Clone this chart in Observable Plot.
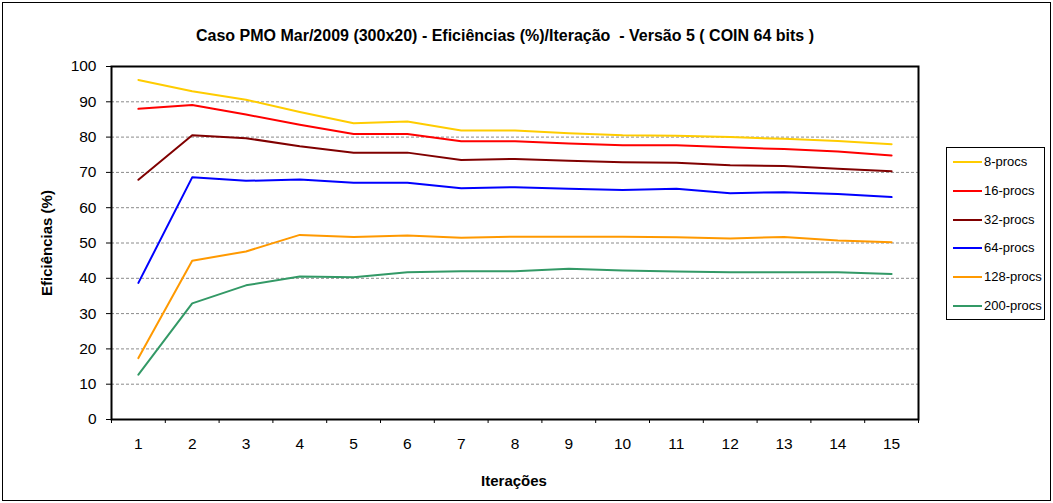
<!DOCTYPE html>
<html>
<head>
<meta charset="utf-8">
<script src="https://cdn.jsdelivr.net/npm/d3@7"></script>
<script src="https://cdn.jsdelivr.net/npm/@observablehq/plot@0.6"></script>
<style>
  html, body { margin: 0; padding: 0; background: #fff; }
  #wrap { position: relative; width: 1053px; height: 503px; font-family: Arial, "Liberation Sans", sans-serif; overflow: hidden; }
  #border { position: absolute; left: 2px; top: 2px; width: 1047px; height: 497px; border: 1px solid #000; box-sizing: content-box; pointer-events: none; }
  #title { position: absolute; left: 0; width: 1010px; top: 27px; text-align: center; font-weight: bold; font-size: 16px; white-space: nowrap; }
  #xlabel { position: absolute; left: 414px; width: 200px; top: 472px; text-align: center; font-weight: bold; font-size: 15px; }
  #ylabel { position: absolute; left: 46px; top: 243px; transform: translate(-50%, -50%) rotate(-90deg); font-weight: bold; font-size: 15px; white-space: nowrap; }
  #legend { position: absolute; left: 946px; top: 147px; width: 99px; height: 173px; border: 1px solid #000; box-sizing: border-box; background: #fff; }
  .li { position: absolute; left: 6px; font-size: 13px; line-height: 14px; white-space: nowrap; }
  .li span.sw { display: inline-block; width: 29px; height: 2px; vertical-align: middle; margin-right: 2px; position: relative; top: -1px; }
  svg { position: absolute; left: 0; top: 0; }
</style>
</head>
<body>
<div id="wrap">
  <div id="chart"></div>
  <div id="title">Caso PMO Mar/2009 (300x20) - Eficiências (%)/Iteração&nbsp; - Versão 5 ( COIN 64 bits )</div>
  <div id="ylabel">Eficiências (%)</div>
  <div id="xlabel">Iterações</div>
  <div id="legend"></div>
  <div id="border"></div>
</div>
<script>
const iterations = [1,2,3,4,5,6,7,8,9,10,11,12,13,14,15];
const seriesNames = ["8-procs","16-procs","32-procs","64-procs","128-procs","200-procs"];
const seriesColors = ["#FFCC00","#FF0000","#800000","#0000FF","#FF9900","#339966"];
const procs8   = [96.2,93.0,90.6,87.1,83.9,84.4,81.9,81.9,81.1,80.5,80.4,80.0,79.5,78.9,78.0];
const procs16  = [88.0,89.1,86.4,83.5,80.9,80.9,78.8,78.8,78.2,77.7,77.7,77.1,76.6,75.9,74.8];
const procs32  = [67.9,80.5,79.7,77.4,75.6,75.6,73.5,73.8,73.3,72.9,72.7,72.0,71.8,71.0,70.3];
const procs64  = [38.7,68.6,67.6,68.0,67.1,67.1,65.5,65.8,65.4,65.0,65.4,64.1,64.4,63.9,63.0];
const procs128 = [17.4,45.0,47.6,52.3,51.7,52.1,51.5,51.8,51.8,51.8,51.6,51.3,51.7,50.7,50.2];
const procs200 = [12.7,32.9,38.0,40.5,40.3,41.7,42.0,42.0,42.7,42.2,41.9,41.7,41.7,41.7,41.2];
const yTicks = [0,10,20,30,40,50,60,70,80,90,100];
const gridValues = [10,20,30,40,50,60,70,80,90];

const seriesValues = [procs8, procs16, procs32, procs64, procs128, procs200];
const data = [];
seriesNames.forEach((name, i) => {
  iterations.forEach((it, j) => data.push({series: name, iter: it, value: seriesValues[i][j]}));
});
const boundaries = d3.range(0.5, 16, 1);

const chart = Plot.plot({
  width: 1053,
  height: 503,
  marginLeft: 111,
  marginRight: 135,
  marginTop: 66,
  marginBottom: 84,
  style: {fontFamily: 'Arial, "Liberation Sans", sans-serif', background: "transparent", color: "#000"},
  x: {type: "linear", domain: [0.5, 15.5]},
  y: {domain: [0, 100]},
  color: {domain: seriesNames, range: seriesColors},
  marks: [
    Plot.ruleY(gridValues, {stroke: "#8a8a8a", strokeWidth: 1, strokeDasharray: "3,2"}),
    Plot.axisY({ticks: yTicks, tickSize: 5, tickPadding: 10, fontSize: 15.5, label: null, stroke: "#000"}),
    Plot.axisX({ticks: boundaries, tickSize: 4, tickFormat: () => "", label: null}),
    Plot.axisX({ticks: iterations, tickSize: 0, tickPadding: 18, fontSize: 15.5, label: null, tickFormat: d => String(d)}),
    Plot.line(data, {x: "iter", y: "value", z: "series", stroke: "series", strokeWidth: 2}),
    Plot.frame({stroke: "#000", strokeWidth: 2})
  ]
});
document.getElementById("chart").appendChild(chart);

const legend = document.getElementById("legend");
const rowTops = [7, 36, 65, 93, 122, 151];
seriesNames.forEach((name, i) => {
  const row = document.createElement("div");
  row.className = "li";
  row.style.top = rowTops[i] + "px";
  const sw = document.createElement("span");
  sw.className = "sw";
  sw.style.background = seriesColors[i];
  row.appendChild(sw);
  row.appendChild(document.createTextNode(name));
  legend.appendChild(row);
});
</script>
</body>
</html>
